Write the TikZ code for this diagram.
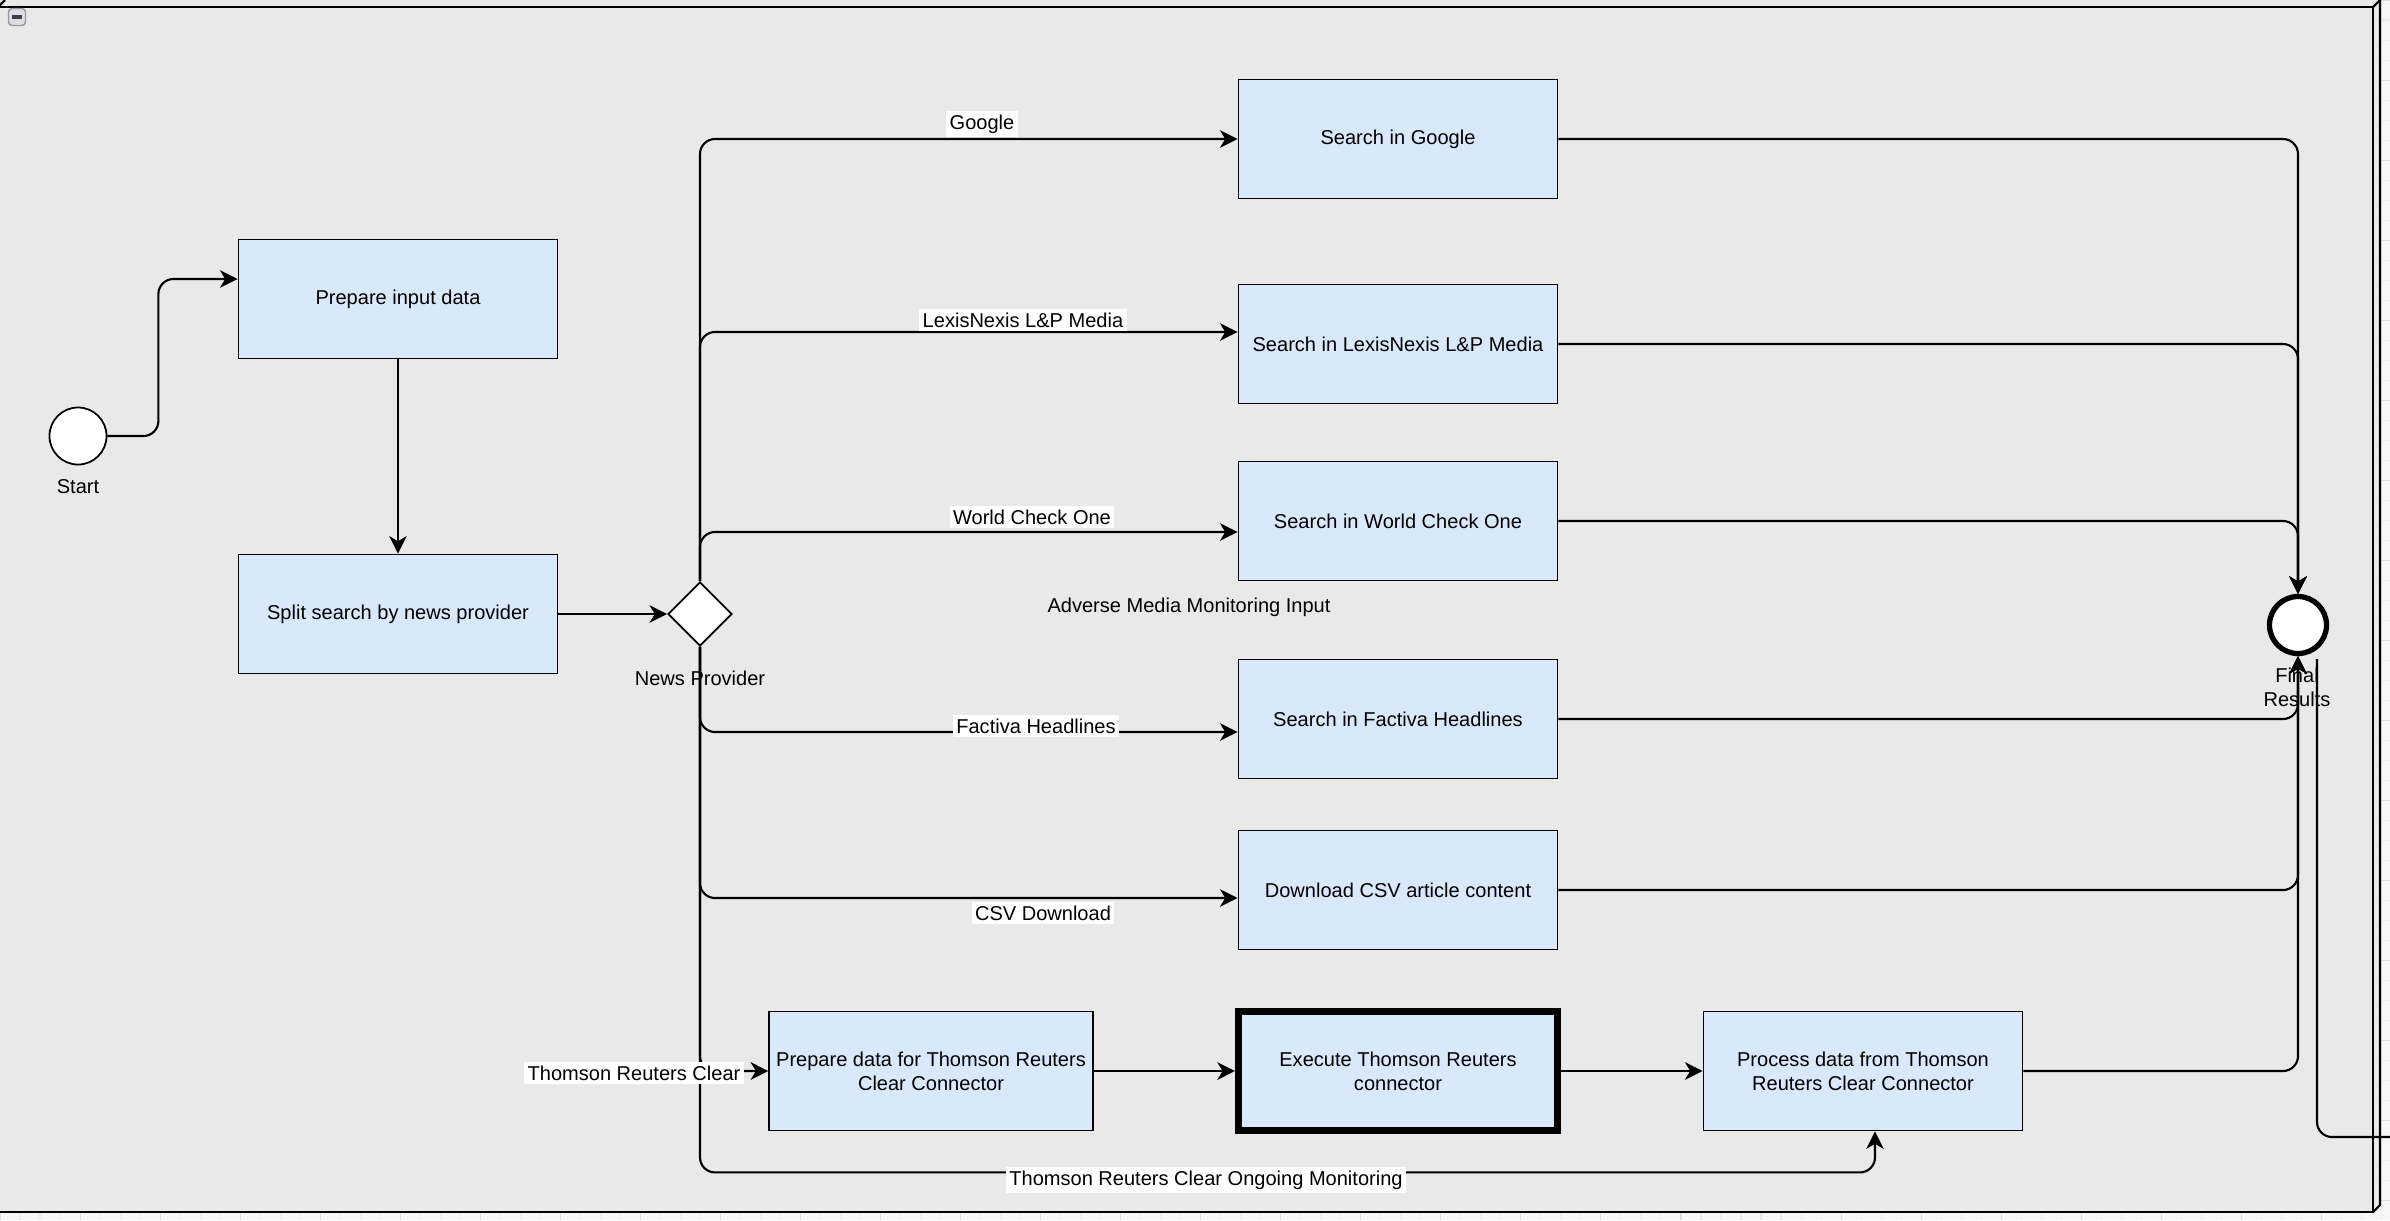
\documentclass[tikz,border=0pt]{standalone}
\usepackage{fontspec}
\setmainfont{Liberation Sans}
\usetikzlibrary{arrows.meta, positioning, calc, shapes.geometric}

\definecolor{canvasbg}{HTML}{F6F6F6}
\definecolor{gridminor}{HTML}{ECECEC}
\definecolor{gridmajor}{HTML}{DEDEDE}
\definecolor{poolgray}{HTML}{E9E9E9}
\definecolor{taskblue}{HTML}{DAE8FC}

\newcommand{\lblfont}{\fontsize{5.7}{6.9}\selectfont}

\tikzset{
  task/.style    = {draw, rectangle, align=center, fill=taskblue, font=\lblfont,
                    line width=0.5pt, inner sep=2pt,
                    minimum width=3.19cm, minimum height=1.19cm},
  event/.style   = {draw, circle, fill=white, minimum size=0.57cm, inner sep=0pt,
                    line width=0.5pt},
  gateway/.style = {draw, diamond, fill=white, minimum width=0.64cm,
                    minimum height=0.64cm, inner sep=0pt, line width=0.5pt},
  arr/.style     = {-{Stealth[length=5pt, width=5pt, inset=1.5pt]},
                    line width=0.6pt, rounded corners=0.15cm},
  flow/.style    = {line width=0.6pt, rounded corners=0.15cm},
  lbl/.style     = {font=\lblfont, fill=white, inner sep=1pt},
  txt/.style     = {font=\lblfont, inner sep=0pt, align=center}
}

\begin{document}
\begin{tikzpicture}[x=0.01cm, y=-0.01cm]

  \useasboundingbox (0,0) rectangle (2390,1220);

  % ── Canvas and pool ───────────────────────────────────────────────────────
  \fill[canvasbg] (0,0) rectangle (2390,1220);
  \draw[gridminor, line width=0.3pt, step=0.2cm] (0,0) grid (2390,1220);
  \draw[gridmajor, line width=0.3pt, step=0.8cm] (0,0) grid (2390,1220);

  \fill[poolgray] (-2,7) -- (5,0) -- (2380,0) -- (2380,1205)
                  -- (2373,1212) -- (-2,1212) -- cycle;
  \draw[line width=0.6pt] (-2,7) rectangle (2373,1212);
  \draw[line width=0.6pt] (-2,7) -- (5,0);
  \draw[line width=0.6pt] (2373,7) -- (2380,0) -- (2380,1205) -- (2373,1212);

  \node[draw=gray!80, fill=blue!10!gray!25, rounded corners=1pt,
        minimum size=0.17cm, inner sep=0pt] (Collapse) at (17,17) {};
  \draw[line width=1pt, black!75] ($(Collapse.west)+(4,0)$) -- ($(Collapse.east)+(-4,0)$);

  \node[txt] (PoolLbl) at (1189,607) {Adverse Media Monitoring Input};

  % ── Start, preparation, gateway ───────────────────────────────────────────
  \node[event]                        (Start)    at (78,436) {};
  \node[txt, below=0.13cm of Start]   (StartLbl) {Start};
  \node[task]                         (Prep)     at (398,299) {Prepare input data};
  \node[task]                         (Split)    at (398,614) {Split search by news provider};
  \node[gateway]                      (Gate)     at (700,614) {};
  \node[txt, below=0.23cm of Gate]    (GateLbl)  {News Provider};

  % ── Search tasks ──────────────────────────────────────────────────────────
  \node[task] (Google) at (1398,139) {Search in Google};
  \node[task] (Lexis)  at (1398,344) {Search in LexisNexis L\&P Media};
  \node[task] (World)  at (1398,521) {Search in World Check One};
  \node[task] (Fact)   at (1398,719) {Search in Factiva Headlines};
  \node[task] (CSV)    at (1398,890) {Download CSV article content};

  % ── Thomson Reuters Clear row ─────────────────────────────────────────────
  \node[task]                  (PrepTR) at (931,1071)
        {Prepare data for Thomson Reuters\\Clear Connector};
  \node[task, line width=2pt]  (Exec)   at (1398,1071)
        {Execute Thomson Reuters\\connector};
  \node[task]                  (Proc)   at (1863,1071)
        {Process data from Thomson\\Reuters Clear Connector};

  % ── End ───────────────────────────────────────────────────────────────────
  \node[event, line width=1.5pt]      (End)    at (2298,625) {};
  \node[txt]                          (EndLbl) at (2297,687) {Final\\Results};

  \coordinate (OutTop) at (2317,659);
  \coordinate (OutEnd) at (2390,1137);

  % ── Connections ───────────────────────────────────────────────────────────
  \draw[arr] (Start.east) -- ++(51,0) |- ($(Prep.west)+(0,-20)$);
  \draw[arr] (Prep) -- (Split);
  \draw[arr] (Split) -- (Gate);

  % Gateway branches
  \draw[arr] (Gate.north) |- (Google.west);
  \draw[arr] (Gate.north) |- ($(Lexis.west)+(0,-12)$);
  \draw[arr] (Gate.north) |- ($(World.west)+(0,11)$);
  \draw[arr] (Gate.south) |- ($(Fact.west)+(0,13)$);
  \draw[arr] (Gate.south) |- ($(CSV.west)+(0,8)$);
  \draw[arr] (Gate.south) |- (PrepTR.west);
  \draw[arr] (Gate.south) |- ($(Proc.south)+(12,41)$) -- ($(Proc.south)+(12,0)$);

  % Thomson Reuters chain
  \draw[arr] (PrepTR) -- (Exec);
  \draw[arr] (Exec) -- (Proc);

  % Results
  \draw[arr] (Google.east) -| (End.north);
  \draw[arr] (Lexis.east)  -| (End.north);
  \draw[arr] (World.east)  -| (End.north);
  \draw[arr] (Fact.east)   -| (End.south);
  \draw[arr] (CSV.east)    -| (End.south);
  \draw[arr] (Proc.east)   -| (End.south);

  \draw[flow] (OutTop) |- (OutEnd);

  % Branch labels
  \node[lbl] (LblGoogle) at (982,124)   {Google};
  \node[lbl] (LblLexis)  at (1023,320)  {LexisNexis L\&P Media};
  \node[lbl] (LblWorld)  at (1032,517)  {World Check One};
  \node[lbl] (LblFact)   at (1036,726)  {Factiva Headlines};
  \node[lbl] (LblCSV)    at (1043,913)  {CSV Download};
  \node[lbl] (LblTR)     at (634,1073)  {Thomson Reuters Clear};
  \node[lbl] (LblTRMon)  at (1206,1180) {Thomson Reuters Clear Ongoing Monitoring};

\end{tikzpicture}
\end{document}
